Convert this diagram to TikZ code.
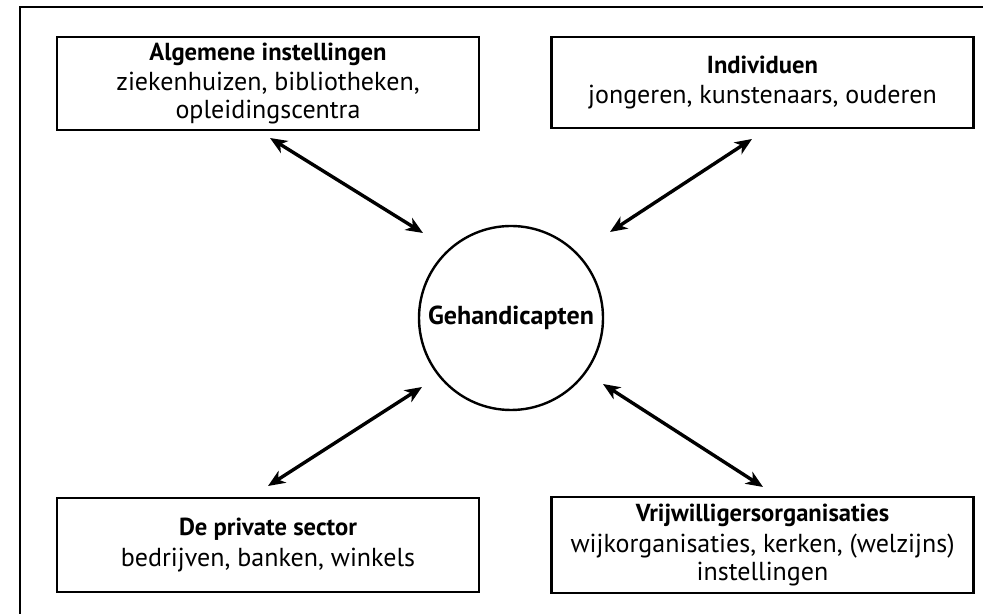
\documentclass[tikz,border=0pt]{standalone}
\usepackage{fontspec}
\setmainfont{PT Sans}
\usepackage{tikz}
\usetikzlibrary{arrows.meta}
\usetikzlibrary{positioning}

\newcommand{\boxhead}[1]{{\fontsize{12.3}{12.3}\selectfont\bfseries #1}}

\begin{document}
\begin{tikzpicture}
    [
    x=0.5pt,y=0.5pt,
    box/.style={rectangle,draw,line width=1.3pt,align=center,inner sep=0pt,
      minimum width=211pt,font=\fontsize{13}{13.8}\selectfont},
    hub/.style={circle,draw,line width=1.2pt,minimum size=92pt,inner sep=0pt,
      font=\fontsize{13}{15}\selectfont\bfseries},
    link/.style={Stealth-Stealth,line width=1.7pt,
      arrows={[length=8.5pt,width=7pt,inset=2.5pt]}},
    ]
    \useasboundingbox (0,0) rectangle (983,614);
    \draw [line width=1.3pt] (20,-20) -- (20,607) -- (1010,607);

    \node (geh) at (511,296) [hub] {Gehandicapten};
    \node (ai) at (268,530.5) [box,minimum height=46.5pt]
      {\boxhead{Algemene instellingen}\\[1.5pt]ziekenhuizen, bibliotheken,\\opleidingscentra};
    \node (ind) at (762.5,531.5) [box,minimum height=45.5pt]
      {\boxhead{Individuen}\\[1.5pt]jongeren, kunstenaars, ouderen};
    \node (ps) at (268,69) [box,minimum height=47pt]
      {\boxhead{De private sector}\\[1.5pt]bedrijven, banken, winkels};
    \node (vw) at (762.5,69) [box,minimum height=48pt]
      {\boxhead{Vrijwilligersorganisaties}\\[1.5pt]wijkorganisaties, kerken, (welzijns)\\instellingen};

    \coordinate (ai-end) at (270,476);
    \coordinate (ai-geh) at (423,381);
    \coordinate (ind-end) at (752,475);
    \coordinate (ind-geh) at (610,382);
    \coordinate (ps-end) at (268,128);
    \coordinate (ps-geh) at (422,227);
    \coordinate (vw-end) at (763,127);
    \coordinate (vw-geh) at (603,230);
    \draw [link] (ai-end) to (ai-geh);
    \draw [link] (ind-end) to (ind-geh);
    \draw [link] (ps-end) to (ps-geh);
    \draw [link] (vw-end) to (vw-geh);
  \end{tikzpicture}
\end{document}
